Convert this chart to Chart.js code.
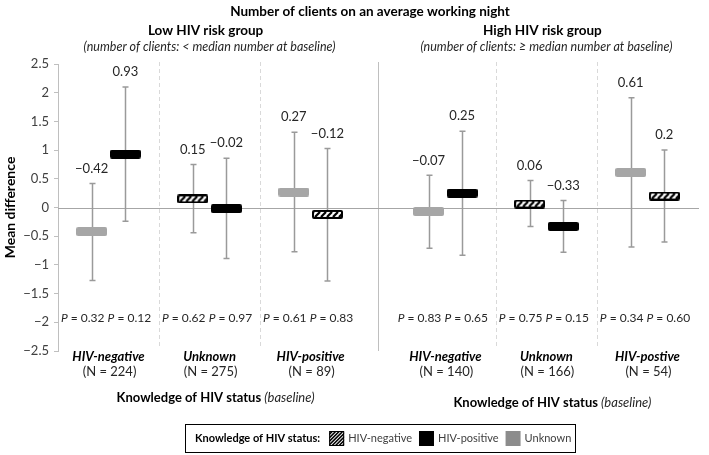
<!DOCTYPE html>
<html><head><meta charset="utf-8">
<script src="https://cdn.jsdelivr.net/npm/chart.js@4/dist/chart.umd.min.js"></script>
<style>html,body{margin:0;padding:0;background:#fff}#wrap{width:709px;height:455px;position:relative}</style>
</head><body><div id="wrap"><canvas id="c" width="709" height="455"></canvas></div>
<script>
// ---------- DATA ----------
const chartTitle = 'Number of clients on an average working night';
const riskGroups = ['Low HIV risk group', 'High HIV risk group'];
const riskSubtitles = ['(number of clients: < median number at baseline)', '(number of clients: \u2265 median number at baseline)'];
const baselineStatus = [['HIV-negative', 'Unknown', 'HIV-positive'], ['HIV-negative', 'Unknown', 'HIV-postive']];
const groupN = [[224, 275, 89], [140, 166, 54]];
const seriesNames = ['HIV-negative', 'HIV-positive', 'Unknown'];
// marker series shown in each (risk group, baseline status) cell
const markerSeries = [
  [['Unknown', 'HIV-positive'], ['HIV-negative', 'HIV-positive'], ['Unknown', 'HIV-negative']],
  [['Unknown', 'HIV-positive'], ['HIV-negative', 'HIV-positive'], ['Unknown', 'HIV-negative']]
];
const meanDiff = [
  [[-0.42, 0.93], [0.15, -0.02], [0.27, -0.12]],
  [[-0.07, 0.25], [0.06, -0.33], [0.61, 0.2]]
];
const ciLow = [
  [[-1.27, -0.24], [-0.44, -0.89], [-0.77, -1.28]],
  [[-0.71, -0.83], [-0.33, -0.78], [-0.69, -0.60]]
];
const ciHigh = [
  [[0.42, 2.10], [0.75, 0.86], [1.31, 1.03]],
  [[0.56, 1.33], [0.47, 0.12], [1.91, 1.00]]
];
const pValues = [
  [['0.32', '0.12'], ['0.62', '0.97'], ['0.61', '0.83']],
  [['0.83', '0.65'], ['0.75', '0.15'], ['0.34', '0.60']]
];
const yMin = -2.5, yMax = 2.5, yStep = 0.5;
const yAxisTitle = 'Mean difference';
const xAxisTitleBold = 'Knowledge of HIV status';
const xAxisTitleItalic = ' (baseline)';
const legendTitle = 'Knowledge of HIV status:';

// ---------- STYLE ----------
const FAM = 'Lato, "Open Sans", "Noto Sans", sans-serif';
const TXT = '#262626';
const ERR = '#9a9a9a';
const slotOf = (r, s, b) => r * 10 + s * 3 + b;

function roundRect(ctx, x, y, w, h, r) {
  ctx.beginPath();
  ctx.moveTo(x + r, y); ctx.lineTo(x + w - r, y); ctx.quadraticCurveTo(x + w, y, x + w, y + r);
  ctx.lineTo(x + w, y + h - r); ctx.quadraticCurveTo(x + w, y + h, x + w - r, y + h);
  ctx.lineTo(x + r, y + h); ctx.quadraticCurveTo(x, y + h, x, y + h - r);
  ctx.lineTo(x, y + r); ctx.quadraticCurveTo(x, y, x + r, y); ctx.closePath();
}
function hatch(ctx, x, y, w, h, step, lw) {
  ctx.save();
  ctx.beginPath(); ctx.rect(x, y, w, h); ctx.clip();
  ctx.strokeStyle = '#000'; ctx.lineWidth = lw;
  for (let k = -h; k < w + h; k += step) {
    ctx.beginPath(); ctx.moveTo(x + k, y + h); ctx.lineTo(x + k + h, y); ctx.stroke();
  }
  ctx.restore();
}
function makeMarker(name) {
  const w = 31, h = 9;
  const c = document.createElement('canvas'); c.width = w; c.height = h;
  const g = c.getContext('2d');
  if (name === 'Unknown') { g.fillStyle = '#a6a6a6'; roundRect(g, 0, 0, w, h, 2); g.fill(); }
  else if (name === 'HIV-positive') { g.fillStyle = '#000'; roundRect(g, 0, 0, w, h, 2); g.fill(); }
  else {
    g.fillStyle = '#000'; roundRect(g, 0, 0, w, h, 2); g.fill();
    g.fillStyle = '#fff'; g.fillRect(2, 2, w - 4, h - 4);
    hatch(g, 2, 2, w - 4, h - 4, 6, 2.2);
  }
  return c;
}

const datasets = seriesNames.map(name => {
  const pts = [];
  for (let r = 0; r < 2; r++) for (let s = 0; s < 3; s++) for (let b = 0; b < 2; b++) {
    if (markerSeries[r][s][b] === name) {
      pts.push({ x: slotOf(r, s, b), y: meanDiff[r][s][b], lo: ciLow[r][s][b], hi: ciHigh[r][s][b], p: pValues[r][s][b], b: b });
    }
  }
  return { label: name, data: pts, pointStyle: makeMarker(name), pointRadius: 10, pointHoverRadius: 10 };
});

const fmt = v => (v < 0 ? '\u2212' + Math.abs(v) : String(v));

function drawRich(ctx, parts, x, y, align) {
  let total = 0;
  parts.forEach(p => { ctx.font = p.font; p.w = ctx.measureText(p.text).width; total += p.w; });
  let cx = align === 'center' ? x - total / 2 : (align === 'right' ? x - total : x);
  ctx.textAlign = 'left'; ctx.textBaseline = 'middle';
  parts.forEach(p => { ctx.font = p.font; ctx.fillStyle = p.color || TXT; ctx.fillText(p.text, cx, y); cx += p.w; });
  return total;
}

const decor = {
  id: 'decor',
  beforeDatasetsDraw(chart) {
    const { ctx, chartArea: a, scales: { x, y } } = chart;
    ctx.save();
    // separators
    [2, 5, 12, 15].forEach(k => {
      const px = Math.round(x.getPixelForValue(k)) + 0.5;
      ctx.strokeStyle = '#d9d9d9'; ctx.lineWidth = 1; ctx.setLineDash([4, 3]);
      ctx.beginPath(); ctx.moveTo(px, a.top - 2); ctx.lineTo(px, a.bottom - 2); ctx.stroke();
    });
    ctx.setLineDash([]);
    const mid = Math.round(x.getPixelForValue(8.5)) + 0.5;
    ctx.strokeStyle = '#bfbfbf'; ctx.lineWidth = 1;
    ctx.beginPath(); ctx.moveTo(mid, a.top - 2); ctx.lineTo(mid, a.bottom); ctx.stroke();
    // zero line
    const zy = Math.round(y.getPixelForValue(0)) + 0.5;
    ctx.strokeStyle = '#a6a6a6'; ctx.lineWidth = 1.2;
    ctx.beginPath(); ctx.moveTo(a.left, zy); ctx.lineTo(a.right + 1, zy); ctx.stroke();
    // error bars
    ctx.strokeStyle = ERR; ctx.lineWidth = 1.5;
    chart.data.datasets.forEach(ds => ds.data.forEach(pt => {
      const px = Math.round(x.getPixelForValue(pt.x)) + 0.5;
      const y1 = y.getPixelForValue(pt.hi), y2 = y.getPixelForValue(pt.lo);
      ctx.beginPath(); ctx.moveTo(px, y1); ctx.lineTo(px, y2);
      ctx.moveTo(px - 3, y1); ctx.lineTo(px + 3, y1);
      ctx.moveTo(px - 3, y2); ctx.lineTo(px + 3, y2); ctx.stroke();
    }));
    ctx.restore();
  },
  afterDatasetsDraw(chart) {
    const { ctx, chartArea: a, scales: { x, y } } = chart;
    ctx.save();
    // value labels & P labels
    chart.data.datasets.forEach(ds => ds.data.forEach(pt => {
      const px = x.getPixelForValue(pt.x);
      ctx.font = '13px ' + FAM; ctx.fillStyle = TXT; ctx.textAlign = 'center'; ctx.textBaseline = 'middle';
      ctx.fillText(fmt(pt.y), px, y.getPixelForValue(pt.hi) - 15);
      drawRich(ctx, [{ text: 'P', font: 'italic 12px ' + FAM }, { text: ' = ' + pt.p, font: '12px ' + FAM }],
        px + (pt.b === 0 ? -9 : 4), y.getPixelForValue(-1.92), 'center');
    }));
    // category labels
    for (let r = 0; r < 2; r++) {
      for (let s = 0; s < 3; s++) {
        const cx = x.getPixelForValue(slotOf(r, s, 0.5));
        ctx.font = 'italic bold 13px ' + FAM; ctx.fillStyle = '#000'; ctx.textAlign = 'center'; ctx.textBaseline = 'middle';
        ctx.fillText(baselineStatus[r][s], cx, 357);
        ctx.font = '13px ' + FAM; ctx.fillStyle = TXT;
        ctx.fillText('(N = ' + groupN[r][s] + ')', cx + 1, 372);
      }
      const gc = x.getPixelForValue(slotOf(r, 1, 0.5));
      drawRich(ctx, [{ text: xAxisTitleBold, font: 'bold 13px ' + FAM, color: '#000' }, { text: xAxisTitleItalic, font: 'italic 13px ' + FAM }],
        gc + 6, r === 0 ? 398 : 403, 'center');
      ctx.font = 'bold 13.5px ' + FAM; ctx.fillStyle = '#000'; ctx.textAlign = 'center'; ctx.textBaseline = 'middle';
      ctx.fillText(riskGroups[r], gc - 4, 31);
      ctx.font = 'italic 12.5px ' + FAM; ctx.fillStyle = TXT;
      ctx.fillText(riskSubtitles[r], gc, 47);
    }
    // title
    ctx.font = 'bold 13.5px ' + FAM; ctx.fillStyle = '#000'; ctx.textAlign = 'center'; ctx.textBaseline = 'middle';
    ctx.fillText(chartTitle, (a.left + a.right) / 2 - 8, 12);
    // y title
    ctx.save(); ctx.translate(10, y.getPixelForValue(0)); ctx.rotate(-Math.PI / 2);
    ctx.font = 'bold 14px ' + FAM; ctx.fillStyle = '#000'; ctx.textAlign = 'center'; ctx.textBaseline = 'middle';
    ctx.fillText(yAxisTitle, 0, 0); ctx.restore();
    // legend
    const bx = 185, by = 424, bw = 390, bh = 28;
    ctx.strokeStyle = '#000'; ctx.lineWidth = 1;
    ctx.strokeRect(bx + 0.5, by + 0.5, bw, bh);
    const ly = by + bh / 2 + 0.5;
    let cx = bx + 10;
    ctx.textAlign = 'left'; ctx.textBaseline = 'middle';
    ctx.font = 'bold 11px ' + FAM; ctx.fillStyle = '#000';
    ctx.fillText(legendTitle, cx, ly); cx += ctx.measureText(legendTitle).width + 9;
    seriesNames.forEach(name => {
      const sz = 15, sy = ly - sz / 2;
      if (name === 'Unknown') { ctx.fillStyle = '#8c8c8c'; ctx.fillRect(cx, sy, sz, sz); }
      else if (name === 'HIV-positive') { ctx.fillStyle = '#000'; ctx.fillRect(cx, sy, sz, sz); }
      else {
        ctx.fillStyle = '#fff'; ctx.fillRect(cx, sy, sz, sz);
        hatch(ctx, cx, sy, sz, sz, 3.5, 1.6);
        ctx.strokeStyle = '#000'; ctx.lineWidth = 1; ctx.strokeRect(cx + 0.5, sy + 0.5, sz - 1, sz - 1);
      }
      cx += sz + 4;
      ctx.font = '11px ' + FAM; ctx.fillStyle = '#404040';
      ctx.fillText(name, cx, ly); cx += ctx.measureText(name).width + 7;
    });
    ctx.restore();
  }
};

new Chart(document.getElementById('c'), {
  type: 'scatter',
  data: { datasets },
  options: {
    responsive: false, animation: false, devicePixelRatio: 1,
    layout: { padding: { top: 64, right: 5, bottom: 104, left: 0 } },
    plugins: { legend: { display: false }, tooltip: { enabled: false } },
    scales: {
      x: { type: 'linear', min: -1, max: 18, display: false },
      y: {
        type: 'linear', min: yMin, max: yMax,
        afterFit(scale) { scale.width = 58; },
        ticks: { stepSize: yStep, padding: 5, color: '#404040', font: { family: FAM, size: 13 },
          callback: v => fmt(Math.round(v * 10) / 10) },
        grid: { drawOnChartArea: false, tickLength: 4, color: '#bfbfbf' },
        border: { display: true, color: '#bfbfbf' }
      }
    }
  },
  plugins: [decor]
});
</script></body></html>
